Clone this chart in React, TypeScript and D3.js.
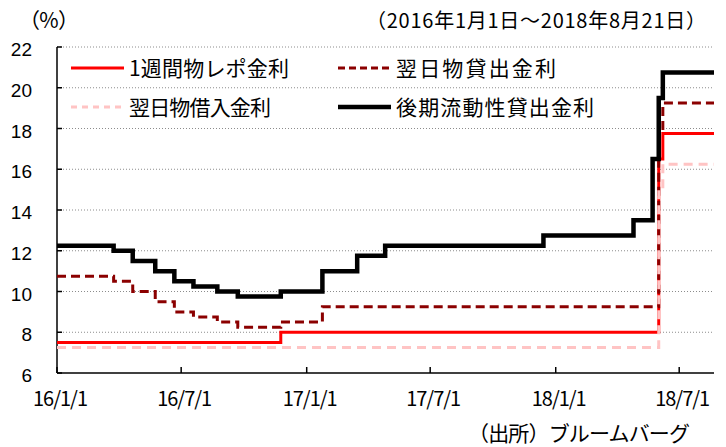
import React, { useRef, useEffect } from 'react'
import * as d3 from 'd3'

// policy rate change points (step after), values in %
const repoDates = ['2016-01-01', '2016-11-24', '2018-06-01', '2018-06-07']
const repoValues = [7.5, 8.0, 16.5, 17.75]

const lendDates = ['2016-01-01', '2016-03-24', '2016-04-21', '2016-05-24', '2016-06-21', '2016-07-19',
  '2016-08-23', '2016-09-22', '2016-11-24', '2017-01-24', '2018-06-01', '2018-06-07']
const lendValues = [10.75, 10.5, 10.0, 9.5, 9.0, 8.75, 8.5, 8.25, 8.5, 9.25, 18.0, 19.25]

const borrowDates = ['2016-01-01', '2018-06-01', '2018-06-07']
const borrowValues = [7.25, 15.0, 16.25]

const llwDates = ['2016-01-01', '2016-03-24', '2016-04-21', '2016-05-24', '2016-06-21', '2016-07-19',
  '2016-08-23', '2016-09-22', '2016-11-24', '2017-01-24', '2017-03-16', '2017-04-26',
  '2017-12-14', '2018-04-25', '2018-05-23', '2018-06-01', '2018-06-07']
const llwValues = [12.25, 12.0, 11.5, 11.0, 10.5, 10.25, 10.0, 9.75, 10.0, 11.0, 11.75, 12.25,
  12.75, 13.5, 16.5, 19.5, 20.75]

const endDate = '2018-08-21'
const yTicks = [6, 8, 10, 12, 14, 16, 18, 20, 22]
const xTickDates = ['2016-01-01', '2016-07-01', '2017-01-01', '2017-07-01', '2018-01-01', '2018-07-01']
const xTickLabels = ['16/1/1', '16/7/1', '17/1/1', '17/7/1', '18/1/1', '18/7/1']

const legendNames = ['1週間物レポ金利', '翌日物貸出金利', '翌日物借入金利', '後期流動性貸出金利']

const JP = '"Noto Sans CJK JP", sans-serif'

function App() {
  const svgRef = useRef<SVGSVGElement>(null)

  useEffect(() => {
    const width = 726
    const height = 447
    const left = 57, right = 714, top = 47, bottom = 373
    const parse = d3.timeParse('%Y-%m-%d')

    const svg = d3.select(svgRef.current)
    svg.selectAll('*').remove()
    svg.attr('width', width).attr('height', height)

    const x = d3.scaleTime()
      .domain([parse('2016-01-01')!, parse(endDate)!])
      .range([left, right])
    const y = d3.scaleLinear().domain([6, 22]).range([bottom, top])

    // grid
    svg.append('g').selectAll('line')
      .data(yTicks.filter(v => v > 6))
      .join('line')
      .attr('x1', left).attr('x2', right)
      .attr('y1', d => y(d)).attr('y2', d => y(d))
      .style('stroke', '#8c8c8c')
      .style('stroke-width', 1)
      .style('stroke-dasharray', '1,2')

    // axes
    svg.append('line').attr('x1', left).attr('x2', left).attr('y1', top).attr('y2', bottom)
      .style('stroke', '#000').style('stroke-width', 1.5)
    svg.append('line').attr('x1', left).attr('x2', right).attr('y1', bottom).attr('y2', bottom)
      .style('stroke', '#000').style('stroke-width', 1.5)

    svg.append('g').selectAll('line')
      .data(yTicks)
      .join('line')
      .attr('x1', left).attr('x2', left + 5)
      .attr('y1', d => y(d)).attr('y2', d => y(d))
      .style('stroke', '#000').style('stroke-width', 1.5)

    svg.append('g').selectAll('text')
      .data(yTicks)
      .join('text')
      .attr('x', 32)
      .attr('y', d => y(d) + 9)
      .attr('text-anchor', 'end')
      .style('font-family', '"Liberation Sans", Arial, sans-serif')
      .style('font-size', '19px')
      .text(d => d)

    svg.append('g').selectAll('line')
      .data(xTickDates)
      .join('line')
      .attr('x1', d => x(parse(d)!)).attr('x2', d => x(parse(d)!))
      .attr('y1', bottom).attr('y2', bottom - 6)
      .style('stroke', '#000').style('stroke-width', 1.5)

    svg.append('g').selectAll('text')
      .data(xTickDates)
      .join('text')
      .attr('x', (d) => x(parse(d)!) + 3.5)
      .attr('y', 406)
      .attr('text-anchor', 'middle')
      .attr('textLength', 55)
      .attr('lengthAdjust', 'spacing')
      .style('font-family', JP)
      .style('font-size', '20px')
      .text((d, i) => xTickLabels[i])

    // series
    const series = [
      { dates: repoDates, values: repoValues, color: '#ff0000', w: 3, dash: null },
      { dates: lendDates, values: lendValues, color: '#8b0000', w: 3, dash: '9,5' },
      { dates: borrowDates, values: borrowValues, color: '#ffc4c4', w: 3, dash: '9,6' },
      { dates: llwDates, values: llwValues, color: '#000000', w: 4.5, dash: null },
    ]

    const line = d3.line<[Date, number]>()
      .x(d => x(d[0]))
      .y(d => y(d[1]))
      .curve(d3.curveStepAfter)

    series.forEach(s => {
      const pts: [Date, number][] = s.dates.map((d, i) => [parse(d)!, s.values[i]])
      pts.push([parse(endDate)!, s.values[s.values.length - 1]])
      svg.append('path')
        .datum(pts)
        .attr('d', line)
        .style('fill', 'none')
        .style('stroke', s.color)
        .style('stroke-width', s.w)
        .style('stroke-dasharray', s.dash)
    })

    // legend
    const legendPos = [[71, 68], [338, 68], [71, 107], [338, 107]]
    const legendLen = [160, 160, 142, 198]
    const legendDash = [null, '7,4', '6,5', null]
    series.forEach((s, i) => {
      const [lx, ly] = legendPos[i]
      svg.append('line')
        .attr('x1', lx).attr('x2', lx + 53).attr('y1', ly).attr('y2', ly)
        .style('stroke', s.color)
        .style('stroke-width', i === 3 ? 4.5 : 3)
        .style('stroke-dasharray', legendDash[i])
      svg.append('text')
        .attr('x', lx + 58)
        .attr('y', ly + 8)
        .attr('textLength', legendLen[i])
        .attr('lengthAdjust', 'spacing')
        .style('font-family', JP)
        .style('font-size', '21px')
        .text(legendNames[i])
    })

    // titles
    svg.append('text').attr('x', 19).attr('y', 28)
      .attr('textLength', 60).attr('lengthAdjust', 'spacing')
      .style('font-family', JP).style('font-size', '21px')
      .text('（%）')
    svg.append('text').attr('x', 366).attr('y', 28)
      .attr('textLength', 340).attr('lengthAdjust', 'spacing')
      .style('font-family', JP).style('font-size', '20px')
      .text('（2016年1月1日～2018年8月21日）')
    svg.append('text').attr('x', 468).attr('y', 441)
      .attr('textLength', 222).attr('lengthAdjust', 'spacing')
      .style('font-family', JP).style('font-size', '21px')
      .text('（出所）ブルームバーグ')
  }, [])

  return (
    <svg ref={svgRef} style={{ position: 'absolute', left: 0, top: 0, background: '#fff' }}></svg>
  )
}

export default App
